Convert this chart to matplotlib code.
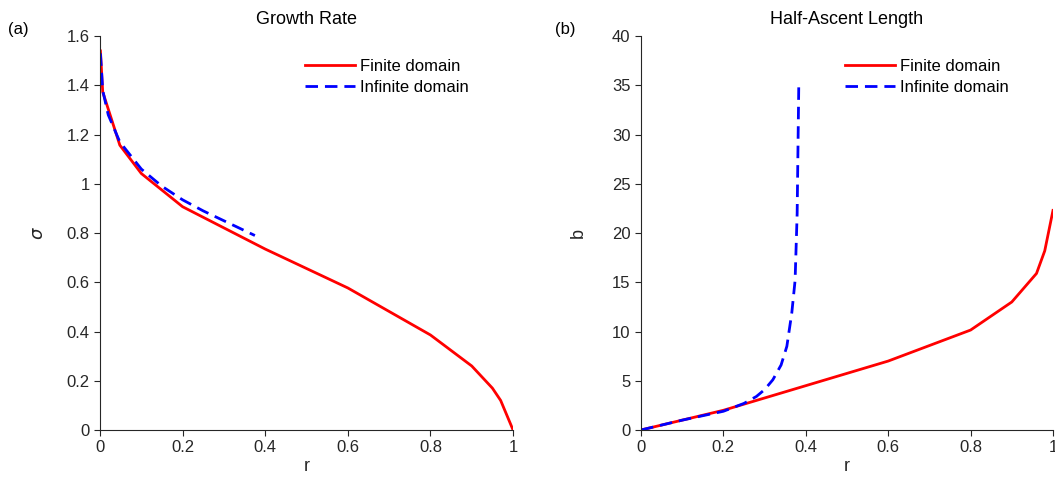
import matplotlib
matplotlib.use("Agg")
import matplotlib.pyplot as plt

plt.rcParams['font.family'] = ['Liberation Sans', 'DejaVu Sans']

# (a) growth rate
r_fin_a = [0.001, 0.0065, 0.048, 0.1, 0.2, 0.4, 0.6, 0.8, 0.9, 0.95, 0.97, 1.0]
sig_fin = [1.54, 1.374, 1.157, 1.042, 0.907, 0.735, 0.577, 0.386, 0.26, 0.17, 0.12, 0.0]
r_inf_a = [0.001, 0.0065, 0.02, 0.048, 0.1, 0.15, 0.2, 0.25, 0.3, 0.35, 0.375]
sig_inf = [1.53, 1.38, 1.28, 1.17, 1.06, 0.99, 0.935, 0.89, 0.85, 0.81, 0.79]

# (b) half-ascent length
r_fin_b = [0.0, 0.1, 0.2, 0.4, 0.6, 0.8, 0.9, 0.96, 0.98, 1.0]
b_fin = [0.0, 1.0, 2.0, 4.5, 7.0, 10.15, 13.0, 15.9, 18.2, 22.3]
r_inf_b = [0.0, 0.1, 0.2, 0.25, 0.28, 0.3, 0.32, 0.34, 0.354, 0.366, 0.374, 0.379, 0.383]
b_inf = [0.0, 1.0, 1.9, 2.7, 3.4, 4.1, 5.1, 6.6, 8.5, 11.9, 15.2, 22.0, 35.3]

gray = '#262626'
fig = plt.figure(figsize=(10.55, 4.88), dpi=100)
ax1 = fig.add_axes([0.0948, 0.1189, 0.3915, 0.807])
ax2 = fig.add_axes([0.6076, 0.1189, 0.3905, 0.807])

ax1.plot(r_fin_a, sig_fin, color='red', lw=2, label='Finite domain')
ax1.plot(r_inf_a, sig_inf, color='blue', lw=2, ls=(0, (4.5, 2.5)), label='Infinite domain')
ax1.set_xlim(0, 1)
ax1.set_ylim(0, 1.6)
ax1.set_xticks([0, 0.2, 0.4, 0.6, 0.8, 1])
ax1.set_xticklabels(['0', '0.2', '0.4', '0.6', '0.8', '1'])
ax1.set_yticks([0, 0.2, 0.4, 0.6, 0.8, 1, 1.2, 1.4, 1.6])
ax1.set_yticklabels(['0', '0.2', '0.4', '0.6', '0.8', '1', '1.2', '1.4', '1.6'])
ax1.set_title('Growth Rate', fontsize=13, color='black', pad=9)
ax1.set_xlabel('r', fontsize=13, color=gray, labelpad=2)
ax1.set_ylabel(r'$\sigma$', fontsize=13, color=gray, labelpad=14)

ax2.plot(r_fin_b, b_fin, color='red', lw=2, label='Finite domain')
ax2.plot(r_inf_b, b_inf, color='blue', lw=2, ls=(0, (4.5, 2.5)), label='Infinite domain')
ax2.set_xlim(0, 1)
ax2.set_ylim(0, 40)
ax2.set_xticks([0, 0.2, 0.4, 0.6, 0.8, 1])
ax2.set_xticklabels(['0', '0.2', '0.4', '0.6', '0.8', '1'])
ax2.set_yticks(range(0, 41, 5))
ax2.set_title('Half-Ascent Length', fontsize=13, color='black', pad=9)
ax2.set_xlabel('r', fontsize=13, color=gray, labelpad=2)
ax2.set_ylabel('b', fontsize=13, color=gray, labelpad=18)

for ax in (ax1, ax2):
    ax.spines['top'].set_visible(False)
    ax.spines['right'].set_visible(False)
    for s in ('left', 'bottom'):
        ax.spines[s].set_color(gray)
    ax.tick_params(direction='out', labelsize=12, colors=gray, length=4)
    ax.legend(loc='upper right', frameon=False, fontsize=12, handlelength=3,
              handletextpad=0.3, labelspacing=0.35, bbox_to_anchor=(0.93, 0.98))

fig.text(0.008, 0.93, '(a)', fontsize=12)
fig.text(0.526, 0.93, '(b)', fontsize=12)

fig.savefig('out.png', dpi=100)
